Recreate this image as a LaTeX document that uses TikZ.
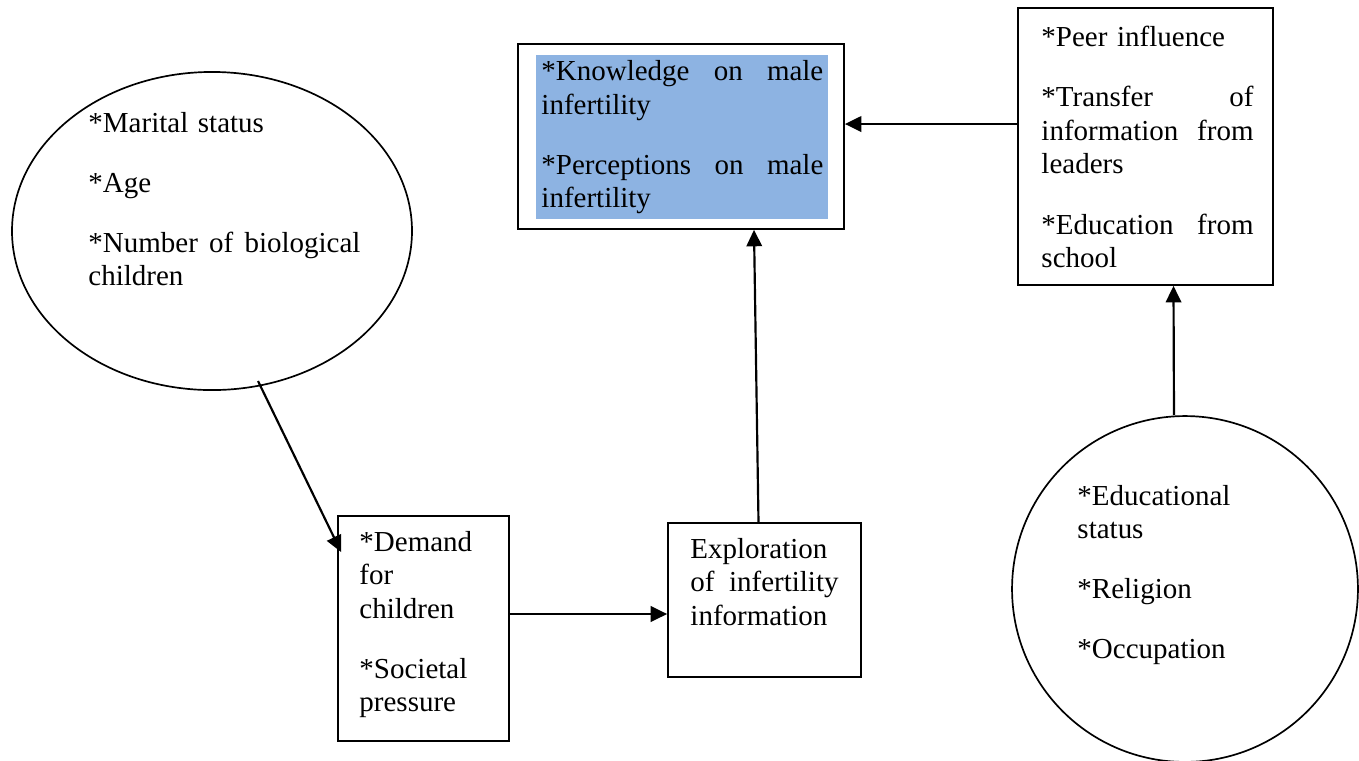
\documentclass[tikz,border=0pt]{standalone}
\usepackage{fontspec}
\setmainfont{Liberation Serif}
\usetikzlibrary{arrows.meta,shapes.geometric,calc}
\definecolor{knowblue}{RGB}{141,179,226}

\begin{document}
\begin{tikzpicture}[x=0.414pt,y=-0.414pt,
    font=\fontsize{12}{13.8}\selectfont,
    frame/.style={draw,line width=0.7pt,inner sep=0pt},
    listtext/.style={anchor=north west,inner sep=0pt,align=left},
    link/.style={line width=0.9pt,-{Triangle[length=6.8pt,width=6.4pt]}}]

      \useasboundingbox (0,0) rectangle (1359,760);



      \node[frame,ellipse,minimum width=165.6pt,minimum height=131.7pt] (family) at (212,231) {};

      \node[listtext,text width=112.6pt] (familytext) at (88,112) {*Marital status\\[11pt]
        *Age\\[11pt] *Number\hfill of\hfill biological\\ children};

      \coordinate (famstart) at (258,381);



      \node[frame,minimum width=135pt,minimum height=76.6pt] (know) at (681,136.5) {};

      \node[anchor=north west,fill=knowblue,inner xsep=2.07pt,inner ysep=2.2pt,align=left,
        text width=116.7pt] (knowtext) at (536,55) {*Knowledge\hfill on\hfill male\\ infertility\\[11pt]
        *Perceptions\hfill on\hfill male\\ infertility};



      \node[frame,minimum width=105.6pt,minimum height=114.7pt] (peer) at (1145.5,146.5) {};

      \node[listtext,text width=87.8pt] (peertext) at (1041,26) {*Peer influence\\[11pt]
        *Transfer\hfill of\\ information\hfill from\\ leaders\\[11.5pt] *Education\hfill from\\ school};



      \node[frame,circle,minimum size=143.2pt] (social) at (1185,589) {};

      \node[listtext,text width=70pt] (socialtext) at (1077,485) {*Educational\\ status\\[11pt]
        *Religion\\[11pt] *Occupation};



      \node[frame,minimum width=70.8pt,minimum height=93.2pt] (demand) at (423.5,628.5) {};

      \node[listtext,text width=60pt] (demandtext) at (359,531) {*Demand\\ for\\ children\\[11pt]
        *Societal\\ pressure};


      \node[frame,minimum width=79.9pt,minimum height=63.8pt] (explore) at (764.5,600) {};

      \node[listtext,text width=61.3pt] (exploretext) at (690,538) {Exploration\\ of\hfill infertility\\
        information};



      \draw[link] (famstart) -- ($(demand.north west)+(4,37)$);

      \draw[link] ($(demand.east)+(0,-14.5)$) -- ($(explore.west)+(0,14)$);

      \draw[link] ($(explore.north)+(-6,0)$) -- ($(know.south)+(73,0)$);

      \draw[link] ($(peer.west)+(0,-22.5)$) -- ($(know.east)+(0,-12.5)$);

      \draw[link] ($(social.north)+(-11,0)$) -- ($(peer.south)+(28,0)$);
    \end{tikzpicture}
\end{document}
